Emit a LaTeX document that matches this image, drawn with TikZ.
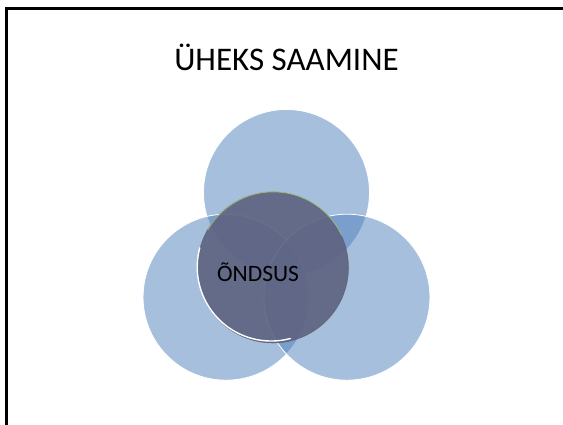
\documentclass[tikz,border=0pt]{standalone}
\usepackage{fontspec}
\setmainfont{Carlito}
\definecolor{ringblue}{HTML}{4F81BD}
\definecolor{coreslate}{HTML}{5F6482}
\definecolor{rimgreen}{HTML}{9DBB7A}
\tikzset{
  ring/.style={circle, minimum size=166pt, inner sep=0pt, fill=ringblue,
    fill opacity=0.5, draw=white, line width=0.8pt},
  core/.style={circle, minimum size=151pt, inner sep=0pt, fill=coreslate,
    fill opacity=0.92, draw=gray!70!black, draw opacity=0.6, line width=0.6pt}
}
\begin{document}
\begin{tikzpicture}[x=1pt,y=-1pt]
\def \spread {69.8} % centre of each ring from the hub
\useasboundingbox (0,0) rectangle (563,425);
\fill[white] (0,0) rectangle (563,425);
\draw[line width=3pt] (6,425) -- (6,8.5) -- (563,8.5);
\node[anchor=base] (title) at (286.5,71) {\fontsize{33}{38}\selectfont ÜHEKS SAAMINE};
\coordinate (hub) at (286.5,262.3);
\foreach \name/\ang in {upper/270, lefty/150, righty/30}
{
  \node[ring] (\name) at ([shift={(\ang:\spread)}]hub) {};
}
\node[core] (bliss) at (273,267.5) {};
\draw[white, line width=1.4pt, line cap=round] (bliss.165)
  arc[start angle=165, end angle=285, radius=74pt];
\draw[rimgreen, line width=0.8pt] (bliss.25)
  arc[start angle=25, end angle=150, radius=75.5pt];
\node[anchor=base, text=black] (word) at (258,281) {\fontsize{23.5}{27}\selectfont ÕNDSUS};
\end{tikzpicture}
\end{document}
